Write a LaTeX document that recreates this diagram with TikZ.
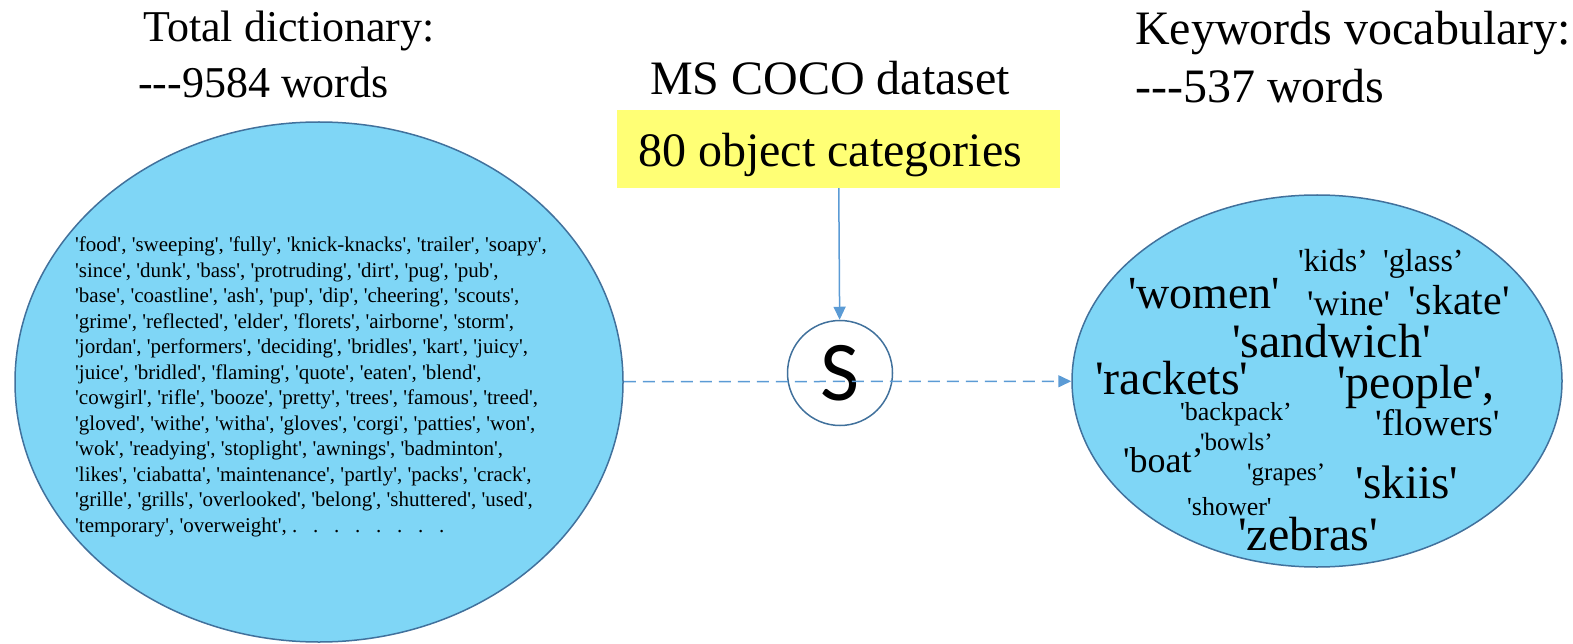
\documentclass[tikz,border=0pt]{standalone}
\usepackage{fontspec}
\newfontfamily\tnr{Liberation Serif}
\newfontfamily\carl{Carlito}
\usepackage{xcolor}
\usetikzlibrary{shapes.geometric, arrows.meta, positioning}
\definecolor{cocoblue}{RGB}{127,214,246}
\definecolor{edgeblue}{RGB}{65,113,156}
\definecolor{linkblue}{RGB}{91,155,213}
\definecolor{boxyellow}{RGB}{255,255,117}
\tikzset{
  bag/.style={ellipse, draw=edgeblue, fill=cocoblue, line width=1.5pt, inner sep=0pt},
  word/.style={anchor=base west, inner sep=0pt, font=\tnr\fontsize{#1}{#1}\selectfont},
  link/.style={draw=linkblue, line width=1.5pt, -{Triangle[length=13pt,width=12pt]}},
  catbox/.style={fill=boxyellow, minimum width=443pt, minimum height=78pt, inner sep=0pt},
}

\begin{document}
\begin{tikzpicture}[x=1pt, y=-1pt]
    \useasboundingbox (0,0) rectangle (1573,644);

    % Titles
    \node[word=44] (dicttitle) at (143,42) {Total dictionary:};
    \node[word=44] (dictcount) at (138,98) {---9584 words};
    \node[word=48] (cocotitle) at (650,95) {MS COCO dataset};
    \node[word=48] (vocabtitle) at (1135,45) {Keywords vocabulary:};
    \node[word=48] (vocabcount) at (1135,103) {---537 words};

    % Ellipses
    \node[bag, minimum width=608pt, minimum height=520pt] (dict) at (319,382) {};
    \node[bag, minimum width=490pt, minimum height=372pt] (keyw) at (1317,381) {};

    % Dictionary words
    \node[anchor=north west, inner sep=0pt, align=left,
          font=\tnr\fontsize{21}{25.5}\selectfont] (dictwords) at (75,237) {%
'food', 'sweeping', 'fully', 'knick-knacks', 'trailer', 'soapy',\\
'since', 'dunk', 'bass', 'protruding', 'dirt', 'pug', 'pub',\\
'base', 'coastline', 'ash', 'pup', 'dip', 'cheering', 'scouts',\\
'grime', 'reflected', 'elder', 'florets', 'airborne', 'storm',\\
'jordan', 'performers', 'deciding', 'bridles', 'kart', 'juicy',\\
'juice', 'bridled', 'flaming', 'quote', 'eaten', 'blend',\\
'cowgirl', 'rifle', 'booze', 'pretty', 'trees', 'famous', 'treed',\\
'gloved', 'withe', 'witha', 'gloves', 'corgi', 'patties', 'won',\\
'wok', 'readying', 'stoplight', 'awnings', 'badminton',\\
'likes', 'ciabatta', 'maintenance', 'partly', 'packs', 'crack',\\
'grille', 'grills', 'overlooked', 'belong', 'shuttered', 'used',\\
'temporary', 'overweight',~.~~~.~~~.~~~.~~~.~~~.~~~.~~~.};

    % Keywords
    \node[word=32] (kids) at (1298,272) {'kids’};
    \node[word=32] (glass) at (1383,272) {'glass’};
    \node[word=46] (women) at (1128,308) {'women'};
    \node[word=36] (wine) at (1307,315) {'wine'};
    \node[word=42] (skate) at (1408,314) {'skate'};
    \node[word=48] (sandwich) at (1232,357) {'sandwich'};
    \node[word=48] (rackets) at (1095,394) {'rackets'};
    \node[word=48] (people) at (1337,398) {'people',};
    \node[word=26] (backpack) at (1180,420) {'backpack’};
    \node[word=37] (flowers) at (1375,435) {'flowers'};
    \node[word=25] (bowls) at (1200,450) {'bowls’};
    \node[word=36] (boat) at (1123,472) {'boat’};
    \node[word=25] (grapes) at (1247,480) {'grapes’};
    \node[word=47] (skiis) at (1355,498) {'skiis'};
    \node[word=26] (shower) at (1187,515) {'shower'};
    \node[word=48] (zebras) at (1238,550) {'zebras'};

    % Selection
    \node[catbox] (cats) at (838.5,149) {};
    \node[word=48] (catlabel) at (638,167) {80 object categories};
    \node[circle, draw=edgeblue, line width=1.5pt, minimum size=105pt, inner sep=0pt,
          font=\carl\fontsize{85}{85}\selectfont] (sel) at (840,373) {S};

    % Arrows
    \draw[link] (cats) -- (sel);
    \draw[link, dash pattern=on 12pt off 7pt] (dict) -- (keyw);
\end{tikzpicture}
\end{document}
